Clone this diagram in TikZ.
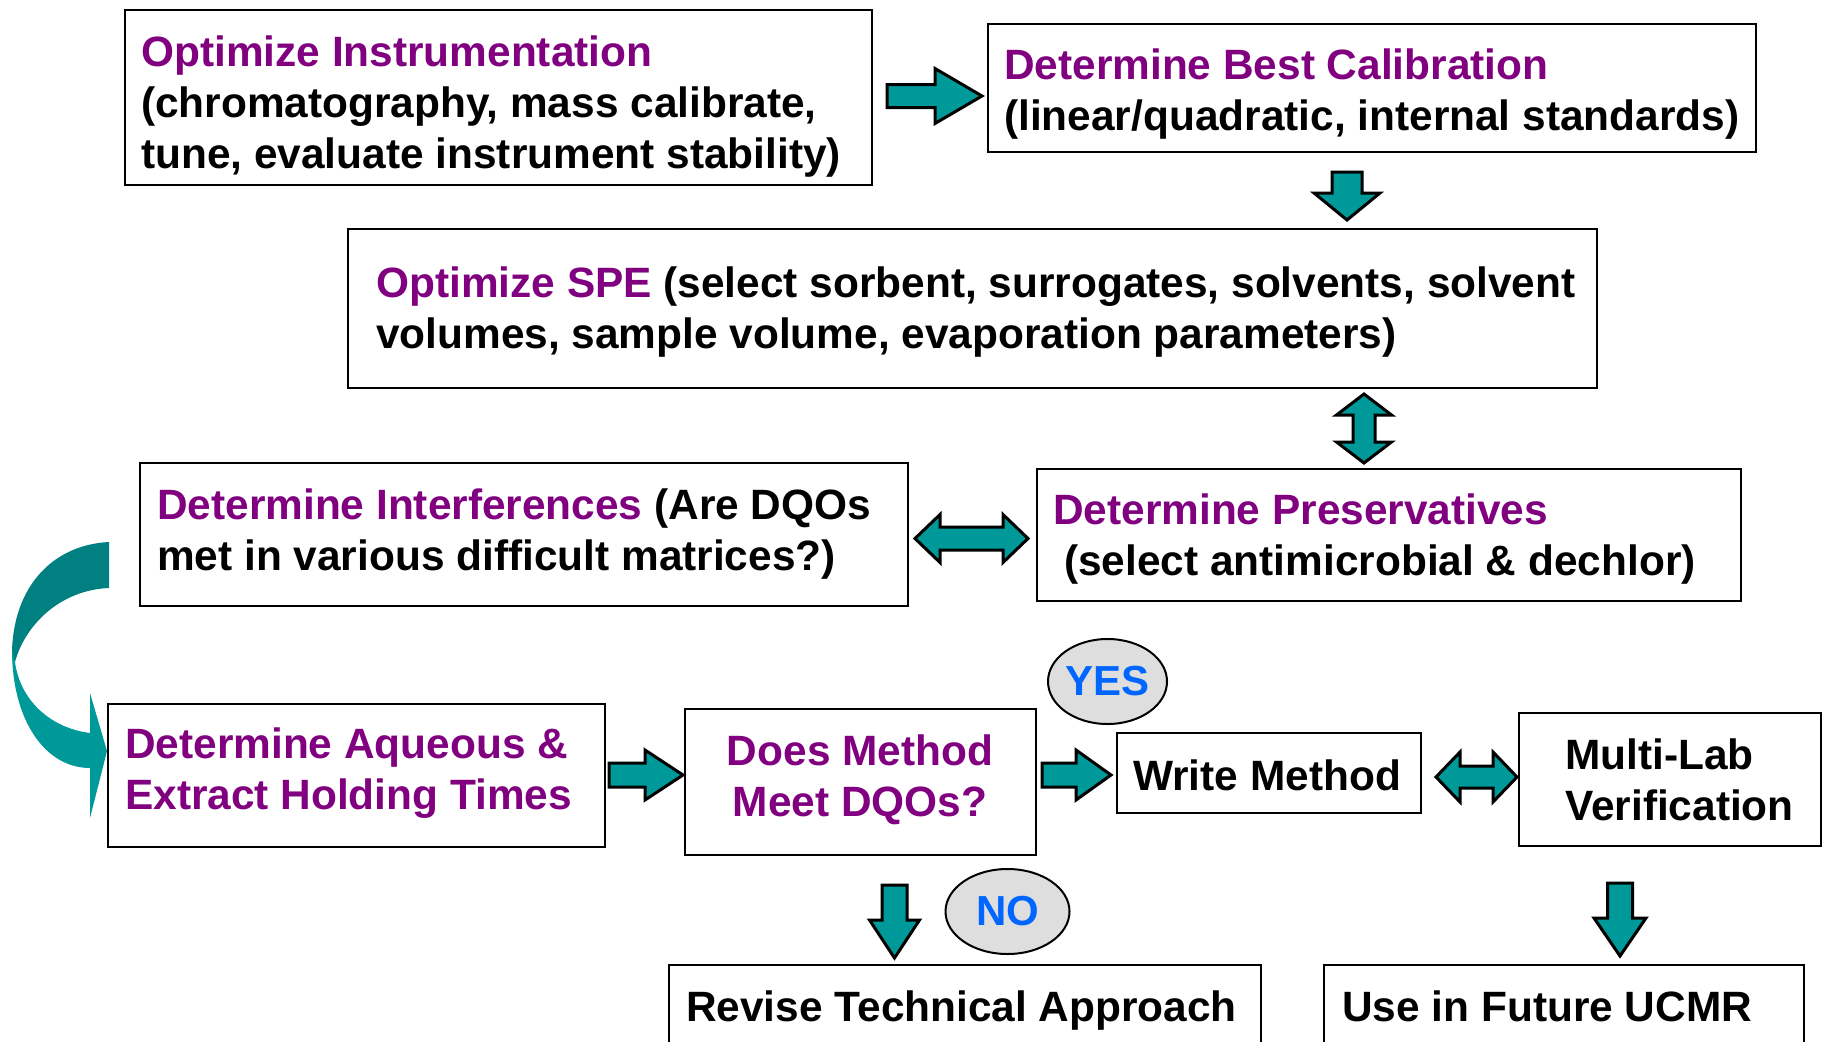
\documentclass[tikz,border=0pt]{standalone}
\usepackage{fontspec}
\setmainfont{Liberation Sans}
\usetikzlibrary{shapes.geometric}
\definecolor{pur}{RGB}{128,0,128}
\definecolor{tealA}{RGB}{0,153,153}
\definecolor{tealD}{RGB}{0,128,128}
\definecolor{yesblue}{RGB}{0,102,255}
\definecolor{ellfill}{RGB}{222,222,222}
\newcommand\RArr[6]{\draw[blk] (#1,#3-#4) -- (#2-#6,#3-#4) -- (#2-#6,#3-#5) -- (#2,#3) -- (#2-#6,#3+#5) -- (#2-#6,#3+#4) -- (#1,#3+#4) -- cycle;}
\newcommand\DArr[6]{\draw[blk] (#3-#4,#1) -- (#3-#4,#2-#6) -- (#3-#5,#2-#6) -- (#3,#2) -- (#3+#5,#2-#6) -- (#3+#4,#2-#6) -- (#3+#4,#1) -- cycle;}
\newcommand\HDArr[6]{\draw[blk] (#1,#3) -- (#1+#6,#3-#5) -- (#1+#6,#3-#4) -- (#2-#6,#3-#4) -- (#2-#6,#3-#5) -- (#2,#3) -- (#2-#6,#3+#5) -- (#2-#6,#3+#4) -- (#1+#6,#3+#4) -- (#1+#6,#3+#5) -- cycle;}
\newcommand\VDArr[6]{\draw[blk] (#3,#1) -- (#3+#5,#1+#6) -- (#3+#4,#1+#6) -- (#3+#4,#2-#6) -- (#3+#5,#2-#6) -- (#3,#2) -- (#3-#5,#2-#6) -- (#3-#4,#2-#6) -- (#3-#4,#1+#6) -- (#3-#5,#1+#6) -- cycle;}
\newcommand\pur[1]{\textcolor{pur}{#1}}
\begin{document}
\begin{tikzpicture}[x=1pt,y=-1pt,
  box/.style={draw=black, line width=2pt, anchor=north west, inner sep=0pt},
  txt/.style={inner sep=0pt, align=left, anchor=west, font=\fontsize{42.4}{51}\selectfont\bfseries},
  ctxt/.style={inner sep=0pt, align=center, font=\fontsize{42.4}{51}\selectfont\bfseries},
  ell/.style={ellipse, draw=black, line width=2pt, fill=ellfill, inner sep=0pt, text=yesblue, font=\fontsize{42}{50}\selectfont\bfseries},
  blk/.style={draw=black, line width=3pt, fill=tealA, line join=miter}]
\useasboundingbox (0,0) rectangle (1822,1041);
\clip (0,0) rectangle (1822,1041);
\fill[white] (0,0) rectangle (1822,1041);
% boxes
\node[box, minimum width=747, minimum height=175] (b1) at (124,9) {};
\node[box, minimum width=768, minimum height=128] (b2) at (987,23) {};
\node[box, minimum width=1249, minimum height=159] (b3) at (347,228) {};
\node[box, minimum width=768, minimum height=143] (b4) at (139,462) {};
\node[box, minimum width=704, minimum height=132] (b5) at (1036,468) {};
\node[box, minimum width=497, minimum height=143] (b6) at (107,703) {};
\node[box, minimum width=351, minimum height=146] (b7) at (684,708) {};
\node[box, minimum width=304, minimum height=80] (b8) at (1116,732) {};
\node[box, minimum width=302, minimum height=133] (b9) at (1518,712) {};
\node[box, minimum width=592, minimum height=110] (b10) at (668,964) {};
\node[box, minimum width=480, minimum height=110] (b11) at (1323,964) {};
% texts
\node[txt] (t1) at (141,106.6) {\pur{Optimize Instrumentation}\\(chromatography, mass calibrate,\\tune, evaluate instrument stability)};
\node[txt] (t2) at (1004,94.5) {\pur{Determine Best Calibration}\\(linear/quadratic, internal standards)};
\node[txt] (t3) at (376,312.5) {\pur{Optimize SPE} (select sorbent, surrogates, solvents, solvent\\volumes, sample volume, evaporation parameters)};
\node[txt] (t4) at (157,534.5) {\pur{Determine Interferences} (Are DQOs\\met in various difficult matrices?)};
\node[txt] (t5) at (1053,539.5) {\pur{Determine Preservatives}\\\hspace*{11pt}(select antimicrobial \& dechlor)};
\node[txt, text=pur] (t6) at (125,773.5) {Determine Aqueous \&\\Extract Holding Times};
\node[ctxt, text=pur] (t7) at (860,779.5) {Does Method\\Meet DQOs?};
\node[txt] (t8) at (1133,775) {Write Method};
\node[txt] (t9) at (1565,780) {Multi-Lab\\Verification};
\node[txt] (t10) at (686,1010.6) {Revise Technical Approach};
\node[txt] (t11) at (1342,1006) {Use in Future UCMR};
% ellipses
\node[ell, minimum width=119, minimum height=85] (yes) at (1107.5,681.5) {YES};
\node[ell, minimum width=124, minimum height=85] (no) at (1007.5,911.5) {NO};
% block arrows
\RArr{887}{982}{96}{11.5}{27.5}{47}
\DArr{172}{220}{1347}{15}{33}{27}
\VDArr{394}{463}{1364}{11}{27.5}{21}
\HDArr{915}{1028}{538.5}{11.5}{24}{25}
\RArr{609}{683}{775}{12}{25}{38}
\RArr{1042}{1111}{775}{12}{25}{35}
\HDArr{1436}{1517}{777}{11}{25}{24}
\DArr{885}{958}{894.5}{12.5}{25}{38}
\DArr{883}{956}{1620}{12.5}{26}{38}
% curved arrow
\fill[tealD] (109,542) .. controls (50,545) and (12,590) .. (12,655) -- (15,662) .. controls (25,625) and (60,590) .. (109,588) -- cycle;
\fill[tealA] (12,650) .. controls (12,720) and (45,768) .. (90,768) -- (90,818) -- (107,751) -- (90,693) -- (90,733) .. controls (50,728) and (20,700) .. (15,662) -- cycle;
\end{tikzpicture}
\end{document}
